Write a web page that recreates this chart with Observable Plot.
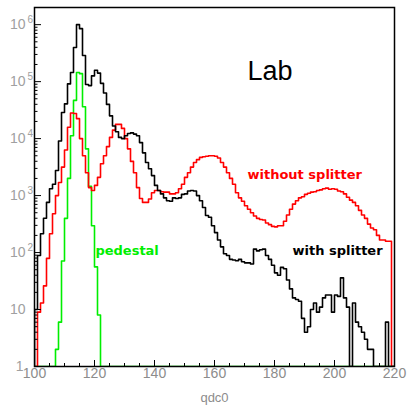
<!DOCTYPE html>
<html>
<head>
<meta charset="utf-8">
<script src="https://cdn.jsdelivr.net/npm/d3@7"></script>
<script src="https://cdn.jsdelivr.net/npm/@observablehq/plot@0.6"></script>
<style>
html, body { margin: 0; padding: 0; background: #fff; }
</style>
</head>
<body>
<div id="chart"></div>
<script>
// Histogram binning of qdc0: bins of width 1 starting at 100
const binStart = 100;
const binWidth = 1;

// "with splitter" counts, bins 100..219
const withSplitter = [
  10, 89, 214, 400, 760, 1320, 1580, 2750, 9100, 28800,
  40700, 91200, 145000, 398000, 1000000, 851000, 288000, 89100, 85100, 126000,
  158000, 141000, 93300, 63100, 39800, 25100, 16600, 13200, 10500, 10000,
  11200, 12300, 12600, 12000, 11200, 8510, 5620, 3800, 2950, 2240,
  1510, 1230, 1070, 912, 813, 794, 912, 891, 912, 1050,
  1070, 1200, 1230, 1200, 1000, 813, 617, 447, 417, 295,
  224, 166, 126, 95, 89, 76, 74, 72, 76, 69,
  66, 66, 63, 115, 107, 112, 115, 89, 76, 60,
  44, 40, 55, 52, 33, 23, 16, 15, 14, 7,
  4, 5, 10, 13, 9, 11, 16, 18, 18, 9,
  18, 17, 36, 16, 11, 0, 13, 6, 5, 4,
  3, 2, 2, 0, 0, 0, 0, 6, 0, 0
];

// "without splitter" counts, bins 100..219
const withoutSplitter = [
  0, 9, 13, 26, 79, 214, 479, 1000, 1700, 3160,
  6310, 15800, 28200, 27500, 22400, 10000, 5010, 2510, 1380, 1230,
  1510, 2090, 3630, 5010, 7240, 10500, 14100, 17800, 17800, 15100,
  10000, 6610, 3980, 2510, 1380, 891, 759, 759, 871, 1120,
  1230, 1230, 1170, 1150, 1150, 1070, 1070, 1120, 1320, 1580,
  2090, 2510, 3160, 3800, 4270, 4680, 4790, 4900, 5010, 5010,
  4900, 4570, 3800, 3160, 2510, 2000, 1580, 1120, 912, 794,
  661, 575, 501, 437, 398, 380, 372, 331, 309, 288,
  282, 295, 295, 355, 457, 575, 708, 813, 912, 955,
  1050, 1100, 1150, 1170, 1230, 1260, 1320, 1350, 1290, 1320,
  1290, 1200, 1170, 1070, 933, 832, 759, 661, 550, 457,
  398, 316, 269, 251, 200, 166, 166, 158, 158, 0
];

// "pedestal" counts, bins 100..219
const pedestal = [
  0, 0, 0, 0, 0, 0, 0, 2, 6, 71,
  398, 2000, 11200, 46800, 145000, 138000, 36300, 6610, 1450, 295,
  56, 8, 0, 0, 0, 0, 0, 0, 0, 0,
  0, 0, 0, 0, 0, 0, 0, 0, 0, 0,
  0, 0, 0, 0, 0, 0, 0, 0, 0, 0,
  0, 0, 0, 0, 0, 0, 0, 0, 0, 0,
  0, 0, 0, 0, 0, 0, 0, 0, 0, 0,
  0, 0, 0, 0, 0, 0, 0, 0, 0, 0,
  0, 0, 0, 0, 0, 0, 0, 0, 0, 0,
  0, 0, 0, 0, 0, 0, 0, 0, 0, 0,
  0, 0, 0, 0, 0, 0, 0, 0, 0, 0,
  0, 0, 0, 0, 0, 0, 0, 0, 0, 0
];

const xTicks = [100, 120, 140, 160, 180, 200, 220];
const xTickLabels = ["100", "120", "140", "160", "180", "200", "220"];
const xMinorTicks = [105, 110, 115, 125, 130, 135, 145, 150, 155, 165, 170, 175, 185, 190, 195, 205, 210, 215];
const yDecades = [1, 10, 100, 1000, 10000, 100000, 1000000];
const yBaseLabels = ["1", "10", "10", "10", "10", "10", "10"];
const yExponents = ["", "", "2", "3", "4", "5", "6"];
const xTitle = "qdc0";

const yMin = 1, yMax = 2e6;
const yMinor = [];
for (let k = 0; k <= 6; k++) for (let m = 2; m <= 9; m++) { const v = m * 10 ** k; if (v <= yMax) yMinor.push(v); }

// Outline of a histogram (ROOT "HIST" style), empty bins drawn at the axis minimum
function outline(counts) {
  const pts = [{x: binStart, y: yMin}];
  counts.forEach((c, i) => pts.push({x: binStart + i * binWidth, y: Math.max(c, yMin)}));
  const end = binStart + counts.length * binWidth;
  pts.push({x: end, y: Math.max(counts[counts.length - 1], yMin)});
  pts.push({x: end, y: yMin});
  return pts;
}

const labelGrey = "#8c8c8c";
const yLabelGrey = "#a0a0a0";
const sw = 1.6;
const decadeIdx = yDecades.map((d, i) => i);
const oneIdx = decadeIdx.filter(i => yBaseLabels[i] === "1");
const tenIdx = decadeIdx.filter(i => yBaseLabels[i] !== "1");

const chart = Plot.plot({
  width: 407,
  height: 406,
  marginLeft: 34,
  marginRight: 13,
  marginTop: 7,
  marginBottom: 40,
  x: {domain: [100, 220]},
  y: {type: "log", domain: [yMin, yMax]},
  style: {background: "white", color: "black", fontFamily: "'Liberation Sans', Arial, sans-serif", fontSize: "14px"},
  marks: [
    Plot.line(outline(pedestal), {x: "x", y: "y", curve: "step-after", stroke: "#00ee00", strokeWidth: sw, clip: true}),
    Plot.line(outline(withoutSplitter), {x: "x", y: "y", curve: "step-after", stroke: "#ff0000", strokeWidth: sw, clip: true}),
    Plot.line(outline(withSplitter), {x: "x", y: "y", curve: "step-after", stroke: "#000000", strokeWidth: sw, clip: true}),
    // ticks pointing inward
    Plot.axisX(xMinorTicks, {tickSize: -3, tickFormat: () => "", label: null}),
    Plot.axisX(xTicks, {tickSize: -6, tickFormat: () => "", label: null}),
    Plot.axisY(yMinor, {tickSize: -3.5, tickFormat: () => "", label: null}),
    Plot.axisY(yDecades, {tickSize: -7, tickFormat: () => "", label: null}),
    // x tick labels and title
    Plot.text(xTicks, {x: d => d, text: (d, i) => xTickLabels[i], frameAnchor: "bottom", dy: 11, fill: labelGrey, fontSize: 14}),
    Plot.text([xTitle], {text: d => d, frameAnchor: "bottom", dy: 35, fill: labelGrey, fontSize: 13}),
    // y tick labels: 1, 10, 10^n
    Plot.text(oneIdx, {y: i => yDecades[i], text: i => yBaseLabels[i], frameAnchor: "left", dx: -11, textAnchor: "end", fill: yLabelGrey, fontSize: 14}),
    Plot.text(tenIdx, {y: i => yDecades[i], text: i => yBaseLabels[i], frameAnchor: "left", dx: -9, textAnchor: "end", fill: yLabelGrey, fontSize: 14}),
    Plot.text(tenIdx, {y: i => yDecades[i], text: i => yExponents[i], frameAnchor: "left", dx: -7, dy: -5, textAnchor: "start", fill: yLabelGrey, fontSize: 10}),
    // annotations
    Plot.text(["Lab"], {x: 171, y: 1.5e5, text: d => d, textAnchor: "start", fontSize: 27, fill: "black"}),
    Plot.text(["without splitter"], {x: 171, y: 2300, text: d => d, textAnchor: "start", fontSize: 13, fontWeight: "bold", fontFamily: "'DejaVu Sans', sans-serif", fill: "#ff0000"}),
    Plot.text(["with splitter"], {x: 186, y: 106, text: d => d, textAnchor: "start", fontSize: 13, fontWeight: "bold", fontFamily: "'DejaVu Sans', sans-serif", fill: "black"}),
    Plot.text(["pedestal"], {x: 120.3, y: 106, text: d => d, textAnchor: "start", fontSize: 13, fontWeight: "bold", fontFamily: "'DejaVu Sans', sans-serif", fill: "#00ee00"}),
    Plot.frame({stroke: "black", strokeWidth: 1.5})
  ]
});

document.getElementById("chart").appendChild(chart);
</script>
</body>
</html>
